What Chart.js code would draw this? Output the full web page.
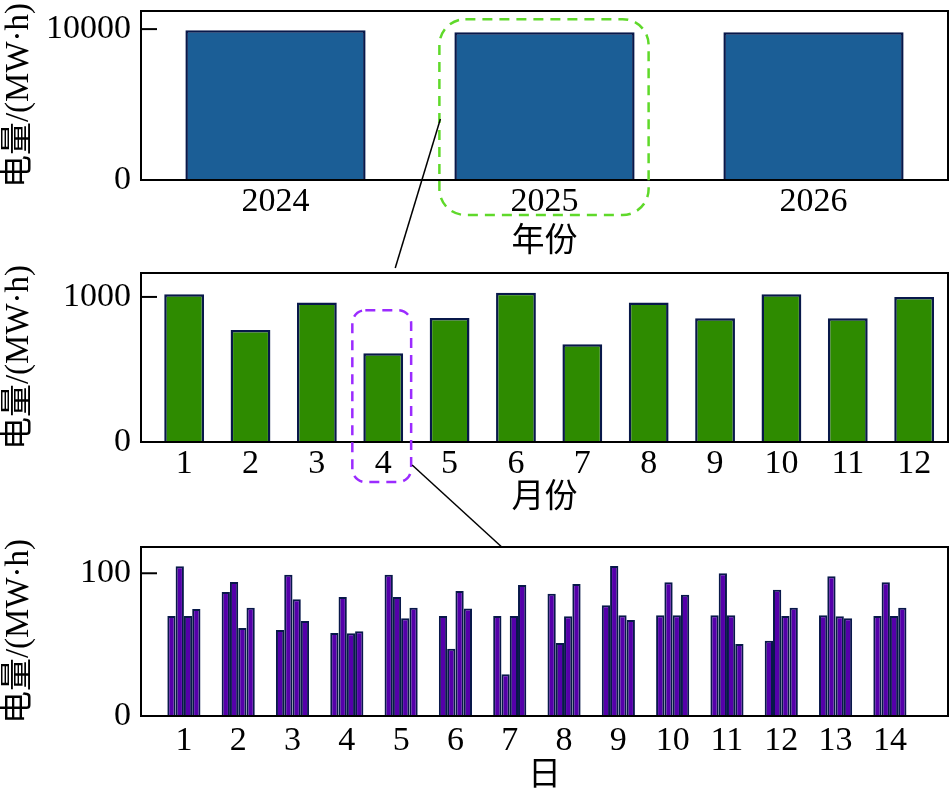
<!DOCTYPE html>
<html>
<head>
<meta charset="utf-8">
<script src="https://cdn.jsdelivr.net/npm/chart.js@4.4.0/dist/chart.umd.min.js"></script>
<style>
  html, body { margin: 0; padding: 0; background: #fff; overflow: hidden; }
  #wrap { position: relative; width: 952px; height: 793px; }
  canvas { position: absolute; left: 0; }
</style>
</head>
<body>
<div id="wrap">
  <canvas id="yearChart" width="952" height="262" style="top:0px"></canvas>
  <canvas id="monthChart" width="952" height="256" style="top:262px"></canvas>
  <canvas id="dayChart" width="952" height="280" style="top:518px"></canvas>
  <canvas id="overlay" width="952" height="793" style="top:0px"></canvas>
</div>
<script>
// --- datos ---
const years = ['2024', '2025', '2026'];
const yearEnergy = [9930, 9800, 9800];
const yearTicks = [0, 10000];

const months = [1, 2, 3, 4, 5, 6, 7, 8, 9, 10, 11, 12];
const monthEnergy = [1019, 772, 961, 612, 855, 1028, 674, 961, 853, 1019, 853, 1000];
const monthTicks = [0, 1000];

const days = [1, 2, 3, 4, 5, 6, 7, 8, 9, 10, 11, 12, 13, 14];
const daySeries1 = [70.1, 86.9, 60.3, 58.2, 99.0, 70.1, 70.1, 85.7, 77.6, 70.5, 70.5, 52.8, 70.5, 70.1];
const daySeries2 = [104.9, 93.9, 99.0, 83.4, 83.4, 47.2, 29.2, 51.2, 105.1, 93.7, 100.0, 88.5, 97.9, 93.7];
const daySeries3 = [70.1, 61.7, 81.8, 57.9, 68.4, 87.6, 70.1, 69.8, 70.5, 70.5, 70.5, 70.1, 69.8, 70.1];
const daySeries4 = [75.0, 75.9, 66.6, 59.3, 75.9, 75.4, 91.8, 92.5, 67.3, 85.0, 50.5, 75.9, 68.4, 75.9];
const dayTicks = [0, 100];

const yTitle = '电量/(MW·h)';
const FONT = "'Liberation Serif', 'Times New Roman', 'Noto Sans CJK SC', serif";
const EDGE = '#08184A';

// marco negro + marcas hacia dentro en el eje y
const frame = {
  id: 'frame',
  afterDatasetsDraw(chart) {
    const { ctx, chartArea: a, scales: { y } } = chart;
    ctx.save();
    ctx.strokeStyle = '#000';
    ctx.lineWidth = 2;
    ctx.strokeRect(a.left, a.top, a.right - a.left, a.bottom - a.top);
    y.ticks.forEach(t => {
      const py = y.getPixelForValue(t.value);
      ctx.beginPath();
      ctx.moveTo(a.left, py);
      ctx.lineTo(a.left + 16, py);
      ctx.stroke();
    });
    ctx.restore();
  }
};

function makeOptions(cfg) {
  const x = {
    type: cfg.xType,
    offset: cfg.xType === 'category',
    grid: { display: false, drawTicks: false },
    border: { display: false },
    ticks: {
      color: '#000', padding: cfg.labelPad, maxRotation: 0, autoSkip: false,
      font: { family: FONT, size: 34 },
      callback: cfg.xType === 'category' ? function (v) { return this.getLabelForValue(v); } : v => String(v)
    },
    title: {
      display: true, text: cfg.xTitle, color: '#000',
      font: { family: FONT, size: 33 }, padding: { top: 0, bottom: cfg.titlePad }
    },
    afterFit: s => { s.height = cfg.axisHeight; s.paddingLeft = 0; s.paddingRight = 0; }
  };
  if (cfg.xType === 'linear') {
    x.min = cfg.xMin;
    x.max = cfg.xMax;
    x.afterBuildTicks = s => { s.ticks = cfg.xTicks.map(v => ({ value: v })); };
  }
  return {
    responsive: false,
    animation: false,
    layout: { padding: { top: cfg.padTop, right: 4, left: 0, bottom: 0 } },
    plugins: { legend: { display: false }, tooltip: { enabled: false } },
    scales: {
      x: x,
      y: {
        min: 0, max: cfg.yMax,
        grid: { display: false, drawTicks: false },
        border: { display: false },
        ticks: { color: '#000', padding: 10, font: { family: FONT, size: 34 }, callback: v => String(v) },
        afterBuildTicks: s => { s.ticks = cfg.yTicks.map(v => ({ value: v })); },
        title: {
          display: true, text: yTitle, color: '#000',
          font: { family: FONT, size: 33 }, padding: 0
        },
        afterFit: s => { s.width = 141; s.paddingTop = 0; s.paddingBottom = 0; }
      }
    }
  };
}

const yearChart = new Chart(document.getElementById('yearChart'), {
  type: 'bar',
  data: {
    labels: years,
    datasets: [{
      data: yearEnergy, backgroundColor: '#1B5E96', borderColor: EDGE, borderWidth: 2.5,
      categoryPercentage: 1, barPercentage: 0.67
    }]
  },
  options: makeOptions({
    xType: 'category', xTitle: '年份', yMax: 11200, yTicks: yearTicks,
    padTop: 11, axisHeight: 82, labelPad: 2, titlePad: 0
  }),
  plugins: [frame]
});

const monthChart = new Chart(document.getElementById('monthChart'), {
  type: 'bar',
  data: {
    datasets: [{
      data: months.map((m, i) => ({ x: m, y: monthEnergy[i] })),
      backgroundColor: '#2E8B00', borderColor: EDGE, borderWidth: 2.5,
      categoryPercentage: 0.6, barPercentage: 1
    }]
  },
  options: makeOptions({
    xType: 'linear', xMin: 0.35, xMax: 12.51, xTicks: months, xTitle: '月份',
    yMax: 1165, yTicks: monthTicks, padTop: 11, axisHeight: 76, labelPad: 2, titlePad: 0
  }),
  plugins: [frame]
});

const daySets = [daySeries1, daySeries2, daySeries3, daySeries4].map(s => ({
  data: days.map((d, i) => ({ x: d, y: s[i] })),
  backgroundColor: '#5500AA', borderColor: EDGE, borderWidth: 2,
  categoryPercentage: 0.61, barPercentage: 1
}));

const dayChart = new Chart(document.getElementById('dayChart'), {
  type: 'bar',
  data: { datasets: daySets },
  options: makeOptions({
    xType: 'linear', xMin: 0.21, xMax: 15.07, xTicks: days, xTitle: '日',
    yMax: 118.4, yTicks: dayTicks, padTop: 29, axisHeight: 82, labelPad: 5, titlePad: 2
  }),
  plugins: [frame]
});

// --- recuadros discontinuos y líneas de enlace ---
function roundRect(ctx, l, t, r, b, rad) {
  ctx.beginPath();
  ctx.moveTo(l + rad, t);
  ctx.arcTo(r, t, r, b, rad);
  ctx.arcTo(r, b, l, b, rad);
  ctx.arcTo(l, b, l, t, rad);
  ctx.arcTo(l, t, r, t, rad);
  ctx.closePath();
  ctx.stroke();
}

function drawOverlay() {
  const ctx = document.getElementById('overlay').getContext('2d');
  const offY = c => c.canvas.offsetTop;

  const yb = yearChart.getDatasetMeta(0).data[1].getProps(['x', 'y', 'base', 'width'], true);
  const gy = offY(yearChart);
  const g = { l: yb.x - yb.width / 2 - 15, r: yb.x + yb.width / 2 + 14, t: gy + yb.y - 13, b: gy + yb.base + 35 };

  const mb = monthChart.getDatasetMeta(0).data[3].getProps(['x', 'y', 'base', 'width'], true);
  const my = offY(monthChart);
  const p = { l: mb.x - mb.width / 2 - 11, r: mb.x + mb.width / 2 + 8, t: my + mb.y - 43, b: my + mb.base + 40 };

  ctx.save();
  ctx.lineWidth = 2.5;
  ctx.setLineDash([10, 7]);
  ctx.strokeStyle = '#5FD92A';
  roundRect(ctx, g.l, g.t, g.r, g.b, 26);
  ctx.strokeStyle = '#9B2BFF';
  roundRect(ctx, p.l, p.t, p.r, p.b, 13);

  ctx.setLineDash([]);
  ctx.lineWidth = 1.5;
  ctx.strokeStyle = '#000';
  ctx.beginPath();
  ctx.moveTo(g.l + 1, (g.t + g.b) / 2 + 2);
  ctx.lineTo(mb.x + 12, my + monthChart.chartArea.top - 5);
  ctx.stroke();

  const dy = offY(dayChart);
  ctx.beginPath();
  ctx.moveTo(p.r + 1, my + mb.base + 23);
  ctx.lineTo(dayChart.scales.x.getPixelForValue(7) - 8, dy + dayChart.chartArea.top);
  ctx.stroke();
  ctx.restore();
}
drawOverlay();
</script>
</body>
</html>
